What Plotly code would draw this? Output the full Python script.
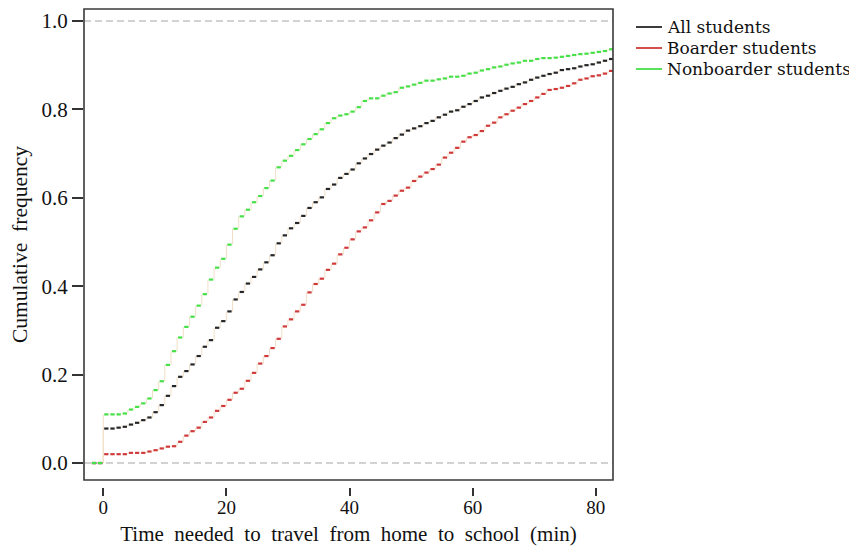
import plotly.graph_objects as go

# ---------------- data ----------------
minutes = list(range(-2, 83))  # start of each one-minute step interval

series_names = ["All students", "Boarder students", "Nonboarder students"]

all_students = [0.0, 0.0,
    0.078, 0.078, 0.080, 0.082, 0.087, 0.091, 0.097, 0.103, 0.115, 0.131,
    0.152, 0.174, 0.195, 0.208, 0.223, 0.242, 0.263, 0.278, 0.306, 0.321,
    0.343, 0.370, 0.387, 0.406, 0.421, 0.438, 0.454, 0.470, 0.497, 0.515,
    0.531, 0.543, 0.559, 0.577, 0.590, 0.601, 0.620, 0.630, 0.645, 0.654,
    0.664, 0.678, 0.689, 0.699, 0.709, 0.718, 0.725, 0.735, 0.743, 0.752,
    0.757, 0.762, 0.769, 0.774, 0.782, 0.788, 0.795, 0.798, 0.806, 0.812,
    0.819, 0.827, 0.831, 0.837, 0.842, 0.847, 0.851, 0.857, 0.861, 0.867,
    0.872, 0.876, 0.880, 0.883, 0.889, 0.891, 0.893, 0.897, 0.900, 0.902,
    0.906, 0.910, 0.914]

boarder_students = [0.0, 0.0,
    0.020, 0.020, 0.020, 0.020, 0.023, 0.023, 0.023, 0.026, 0.029, 0.033,
    0.037, 0.038, 0.048, 0.062, 0.072, 0.080, 0.093, 0.103, 0.118, 0.129,
    0.143, 0.159, 0.168, 0.186, 0.204, 0.225, 0.242, 0.260, 0.281, 0.309,
    0.325, 0.343, 0.358, 0.386, 0.405, 0.417, 0.437, 0.451, 0.472, 0.487,
    0.506, 0.524, 0.533, 0.549, 0.567, 0.586, 0.593, 0.605, 0.616, 0.623,
    0.638, 0.648, 0.657, 0.665, 0.675, 0.691, 0.702, 0.713, 0.727, 0.737,
    0.742, 0.751, 0.763, 0.770, 0.782, 0.789, 0.797, 0.804, 0.812, 0.819,
    0.827, 0.835, 0.844, 0.846, 0.849, 0.853, 0.859, 0.867, 0.870, 0.875,
    0.877, 0.881, 0.887]

nonboarder_students = [0.0, 0.0,
    0.110, 0.110, 0.110, 0.112, 0.121, 0.127, 0.135, 0.146, 0.165, 0.185,
    0.222, 0.253, 0.284, 0.308, 0.331, 0.356, 0.382, 0.415, 0.442, 0.462,
    0.494, 0.530, 0.558, 0.573, 0.590, 0.604, 0.622, 0.639, 0.669, 0.684,
    0.695, 0.708, 0.721, 0.733, 0.744, 0.755, 0.769, 0.780, 0.786, 0.789,
    0.795, 0.805, 0.819, 0.825, 0.825, 0.831, 0.836, 0.839, 0.849, 0.852,
    0.856, 0.860, 0.865, 0.865, 0.868, 0.870, 0.874, 0.874, 0.876, 0.881,
    0.883, 0.888, 0.891, 0.895, 0.897, 0.901, 0.904, 0.906, 0.910, 0.910,
    0.914, 0.916, 0.916, 0.917, 0.919, 0.921, 0.923, 0.925, 0.926, 0.928,
    0.930, 0.932, 0.936]

x_ticks = [0, 20, 40, 60, 80]
y_ticks = [0.0, 0.2, 0.4, 0.6, 0.8, 1.0]
reference_levels = [0.0, 1.0]

x_title = "Time\u2002needed\u2002to\u2002travel\u2002from\u2002home\u2002to\u2002school\u2002(min)"
y_title = "Cumulative\u2002frequency"

# ---------------- styling ----------------
colors = ["#262626", "#d03a3a", "#48e048"]
connector_color = "#f1dfc6"
FONT = "Liberation Serif, Times New Roman, serif"
LEG_FONT = "DejaVu Serif, Liberation Serif, serif"

OFF = 8                      # page body margin of the html page
W, H = 857 - OFF, 546 - OFF  # figure size so that it fills the window

def fx(px):  # window px -> figure px
    return px - OFF

plot_left, plot_right = fx(84), fx(613)
plot_top, plot_bottom = fx(9), fx(487)   # plot_bottom = where x ticks start
box_bottom = fx(480)
L, R, T, B = plot_left, W - plot_right, plot_top, H - plot_bottom
plot_w = plot_right - plot_left
plot_h = plot_bottom - plot_top
y_dom0 = (plot_bottom - box_bottom) / plot_h

def paper_x(px):
    return (fx(px) - plot_left) / plot_w

def paper_y(py):
    return (plot_bottom - fx(py)) / plot_h

fig = go.Figure()

for name, vals, col in zip(series_names,
                           [all_students, boarder_students, nonboarder_students],
                           colors):
    vx, vy = [], []
    for i in range(1, len(minutes)):
        vx += [minutes[i], minutes[i], None]
        vy += [vals[i - 1], vals[i], None]
    fig.add_trace(go.Scatter(x=vx, y=vy, mode="lines",
                             line=dict(color=connector_color, width=1),
                             showlegend=False, hoverinfo="skip"))
    hx, hy = [], []
    for m, v in zip(minutes, vals):
        hx += [m + 0.15, m + 0.85, None]
        hy += [v, v, None]
    fig.add_trace(go.Scatter(x=hx, y=hy, mode="lines", name=name,
                             line=dict(color=col, width=2.2),
                             showlegend=False))

for lv in reference_levels:
    fig.add_shape(type="line", xref="x domain", yref="y", x0=0, x1=1, y0=lv, y1=lv,
                  line=dict(color="#c4c4c4", width=1.5, dash="7px,4px"), layer="below")

fig.add_shape(type="rect", xref="x domain", yref="y domain", x0=0, x1=1, y0=0, y1=1,
              line=dict(color="#3a3a3a", width=1.6))

leg_y_px = [27, 48, 69]
for name, col, py in zip(series_names, colors, leg_y_px):
    yp = paper_y(py)
    fig.add_shape(type="line", xref="paper", yref="paper",
                  x0=paper_x(636), x1=paper_x(662), y0=yp, y1=yp,
                  line=dict(color=col, width=1.8))
    fig.add_annotation(xref="paper", yref="paper", x=paper_x(666), y=yp,
                       text=name, showarrow=False, xanchor="left", yanchor="middle",
                       borderpad=0,
                       font=dict(family=LEG_FONT, size=17, color="#111"))

fig.update_layout(
    width=W, height=H,
    margin=dict(l=L, r=R, t=T, b=B, pad=0),
    paper_bgcolor="white", plot_bgcolor="white",
    showlegend=False,
    font=dict(family=FONT, size=19, color="#111"),
    xaxis=dict(range=[-3.13, 82.8], tickvals=x_ticks, ticks="outside", ticklen=8,
               tickwidth=1.5, tickcolor="#333", showgrid=False, zeroline=False,
               showline=False, anchor="free", position=0, ticklabelstandoff=-5,
               title=dict(text=x_title, font=dict(size=21), standoff=9),
               tickfont=dict(size=19)),
    yaxis=dict(range=[-0.0384, 1.0271], domain=[y_dom0, 1], tickvals=y_ticks,
               tickformat=".1f", ticks="outside", ticklen=11, tickwidth=1.5,
               tickcolor="#333", showgrid=False, zeroline=False, showline=False,
               title=dict(text=y_title, font=dict(size=21.5), standoff=10),
               tickfont=dict(size=21)),
)

fig.write_html("out.html")
